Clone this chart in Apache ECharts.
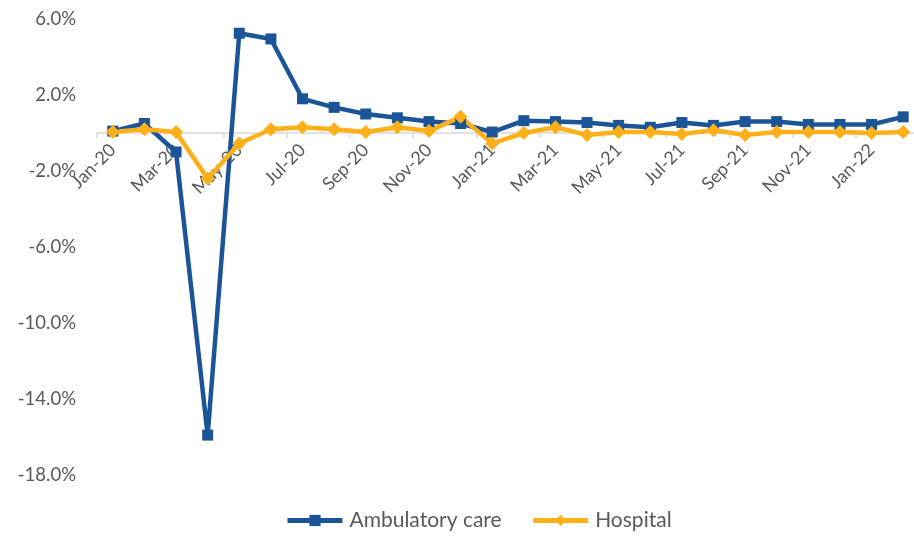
<!DOCTYPE html>
<html>
<head>
<meta charset="utf-8">
<script src="https://cdn.jsdelivr.net/npm/echarts@6/dist/echarts.min.js"></script>
<style>
  html, body { margin: 0; padding: 0; background: #ffffff; }
  #chart { width: 914px; height: 538px; }
</style>
</head>
<body>
<div id="chart"></div>
<script>
var months = ["Jan-20", "Feb-20", "Mar-20", "Apr-20", "May-20", "Jun-20", "Jul-20", "Aug-20", "Sep-20", "Oct-20", "Nov-20", "Dec-20",
  "Jan-21", "Feb-21", "Mar-21", "Apr-21", "May-21", "Jun-21", "Jul-21", "Aug-21", "Sep-21", "Oct-21", "Nov-21", "Dec-21",
  "Jan-22", "Feb-22"];
var ambulatory = [0.1, 0.5, -1.0, -15.9, 5.25, 4.95, 1.8, 1.35, 1.0, 0.8, 0.6, 0.5,
  0.05, 0.65, 0.6, 0.55, 0.4, 0.3, 0.55, 0.4, 0.6, 0.6, 0.45, 0.45, 0.45, 0.85];
var hospital = [0.05, 0.2, 0.05, -2.4, -0.55, 0.2, 0.3, 0.2, 0.05, 0.3, 0.1, 0.85,
  -0.55, 0.0, 0.3, -0.1, 0.05, 0.05, -0.05, 0.15, -0.1, 0.05, 0.05, 0.05, 0.0, 0.05];

// grid: 6% at top, -18% at bottom, 19px per percent -> zero line sits 342px above the bottom
var gridTop = 19, gridHeight = 456;
var zeroOffset = -(gridHeight * 18 / 24);

var Chart = echarts.init(document.getElementById("chart"));
Chart.setOption({
  backgroundColor: "#ffffff",
  animation: false,
  textStyle: { fontFamily: "Lato" },
  grid: {
    left: 97,
    top: gridTop,
    width: 822,
    height: gridHeight,
    containLabel: false,
    outerBoundsMode: "none"
  },
  legend: {
    bottom: 2,
    left: 280,
    itemWidth: 55,
    itemHeight: 14,
    itemGap: 29,
    lineStyle: { width: 5 },
    textStyle: { color: "#595959", fontSize: 21, fontFamily: "Lato", padding: [0, 0, 0, 2] },
    data: ["Ambulatory care", "Hospital"]
  },
  xAxis: {
    type: "category",
    data: months,
    boundaryGap: true,
    position: "bottom",
    offset: zeroOffset,
    axisLine: { onZero: false, lineStyle: { color: "#d9d9d9", width: 1.5 } },
    axisTick: { show: true, interval: 1, length: 5, lineStyle: { color: "#d9d9d9", width: 1.5 } },
    axisLabel: {
      interval: 1,
      rotate: 45,
      margin: 14,
      color: "#595959",
      fontSize: 18,
      fontFamily: "Lato"
    }
  },
  yAxis: {
    type: "value",
    min: -18,
    max: 6,
    interval: 4,
    axisLine: { show: false },
    axisTick: { show: false },
    splitLine: { show: false },
    axisLabel: {
      color: "#595959",
      fontSize: 18.5,
      fontFamily: "Lato",
      margin: 21,
      formatter: function (v) { return v.toFixed(1) + "%"; }
    }
  },
  series: [
    {
      name: "Ambulatory care",
      type: "line",
      data: ambulatory,
      symbol: "rect",
      symbolSize: 11,
      color: "#1b5597",
      lineStyle: { width: 4.5, color: "#1b5597" },
      itemStyle: { color: "#1b5597" }
    },
    {
      name: "Hospital",
      type: "line",
      data: hospital,
      symbol: "diamond",
      symbolSize: 14,
      color: "#ffb018",
      lineStyle: { width: 4.5, color: "#ffb018" },
      itemStyle: { color: "#ffb018" }
    }
  ]
});
</script>
</body>
</html>
